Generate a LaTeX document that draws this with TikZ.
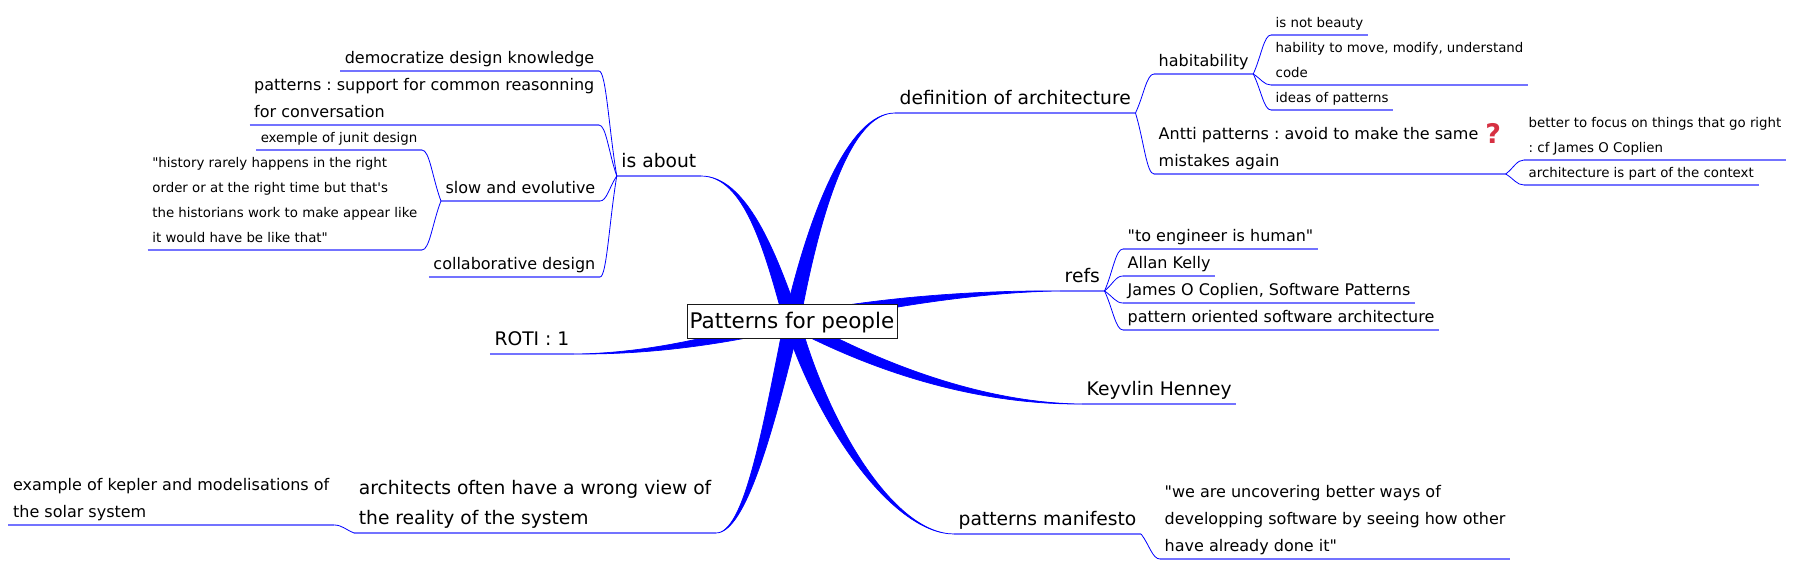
\documentclass[tikz,border=0pt]{standalone}
\usepackage{fontspec}
\setmainfont{DejaVu Sans}[Ligatures=TeXOff]
\usetikzlibrary{calc,backgrounds}
\definecolor{mapblue}{RGB}{0,0,255}
\definecolor{helpred}{RGB}{214,48,66}
\tikzstyle{rootnode}=[draw=black!90,fill=white,line width=1pt,minimum width=210pt,minimum height=34pt,inner sep=0pt,text depth=2pt,font=\fontsize{21.5}{25}\selectfont]
\tikzstyle{levelone}=[inner xsep=4.5pt,inner ysep=0pt,text depth=8pt,align=left,font=\frenchspacing\fontsize{18.7}{30}\selectfont]
\tikzstyle{leveltwo}=[inner xsep=4.5pt,inner ysep=0pt,text depth=7.5pt,align=left,font=\frenchspacing\fontsize{16}{27}\selectfont]
\tikzstyle{levelthree}=[inner xsep=4.5pt,inner ysep=0pt,text depth=7pt,align=left,font=\frenchspacing\fontsize{13.35}{25}\selectfont]
\tikzstyle{underline}=[draw=mapblue!55,line width=1.4pt]
\tikzstyle{edge}=[draw=mapblue,line width=0.8pt]
\tikzstyle{branch}=[fill=mapblue,draw=mapblue,line width=0.7pt]
\newcommand{\helpicon}{\hspace{7pt}\raisebox{-4pt}{\textcolor{helpred}{\bfseries\fontsize{27}{27}\selectfont ?}}}

\begin{document}
\begin{tikzpicture}[x=1pt,y=-1pt]
\useasboundingbox (0,0) rectangle (1794,569);
\node[rootnode] (root) at (792,321.5) {Patterns for people};
% left side
\foreach \pos/\name/\level/\body in {
  {(701,176)/isabout/levelone/is about},
  {(716,533)/architects/levelone/architects often have a wrong view of\\the reality of the system},
  {(574,354)/roti/levelone/ROTI : 1},
  {(599,71)/democratize/leveltwo/democratize design knowledge},
  {(599,125)/support/leveltwo/patterns : support for common reasonning\\for conversation},
  {(600,201)/slow/leveltwo/slow and evolutive},
  {(600,277)/collab/leveltwo/collaborative design},
  {(422,150)/junit/levelthree/exemple of junit design},
  {(422,250)/history/levelthree/"history rarely happens in the right\\order or at the right time but that's\\the historians work to make appear like\\it would have be like that"},
  {(334,525)/kepler/leveltwo/example of kepler and modelisations of\\the solar system}}{
  \node[\level,anchor=south east] (\name) at \pos {\body};
}
% right side
\foreach \pos/\name/\level/\body in {
  {(895,113)/definition/levelone/definition of architecture},
  {(1060,291)/refs/levelone/refs},
  {(1082,404)/henney/levelone/Keyvlin Henney},
  {(954,534)/manifesto/levelone/patterns manifesto},
  {(1154,74)/habitability/leveltwo/habitability},
  {(1154,174)/antti/leveltwo/Antti patterns : avoid to make the same\helpicon\\mistakes again},
  {(1271,35)/beauty/levelthree/is not beauty},
  {(1271,85)/hability/levelthree/{hability to move, modify, understand\\code}},
  {(1271,110)/ideas/levelthree/ideas of patterns},
  {(1524,160)/focus/levelthree/better to focus on things that go right\\: cf James O Coplien},
  {(1524,185)/context/levelthree/architecture is part of the context},
  {(1123,249)/engineer/leveltwo/"to engineer is human"},
  {(1123,276)/kelly/leveltwo/Allan Kelly},
  {(1123,303)/coplien/leveltwo/{James O Coplien, Software Patterns}},
  {(1123,330)/oriented/leveltwo/pattern oriented software architecture},
  {(1160,559)/uncovering/leveltwo/"we are uncovering better ways of\\developping software by seeing how other\\have already done it"}}{
  \node[\level,anchor=south west] (\name) at \pos {\body};
}
\foreach \name in {isabout,architects,roti,democratize,support,slow,collab,junit,history,kepler,
                   definition,refs,henney,manifesto,habitability,antti,beauty,hability,ideas,
                   focus,context,engineer,kelly,coplien,oriented,uncovering}{
  \draw[underline] (\name.south west) -- (\name.south east);
}
\foreach \source/\dest in {isabout.south west/democratize.south east, isabout.south west/support.south east,
                           isabout.south west/slow.south east, isabout.south west/collab.south east,
                           slow.south west/junit.south east, slow.south west/history.south east,
                           architects.south west/kepler.south east,
                           definition.south east/habitability.south west, definition.south east/antti.south west,
                           habitability.south east/beauty.south west, habitability.south east/hability.south west,
                           habitability.south east/ideas.south west,
                           antti.south east/focus.south west, antti.south east/context.south west,
                           refs.south east/engineer.south west, refs.south east/kelly.south west,
                           refs.south east/coplien.south west, refs.south east/oriented.south west,
                           manifesto.south east/uncovering.south west}{
  \draw[edge] (\source) .. controls ($(\source)!.45!(\dest)$) and ($(\dest)+.4*(\source)-.4*(\dest|-\source)$) .. (\dest);
}
\begin{pgfonlayer}{background}
\foreach \dest/\ctrla/\ctrlb/\dx/\dy in {
  isabout.south east/{745,176}/{770,250}/8/0,
  definition.south west/{850,113}/{815,210}/8/0,
  architects.south east/{745,533}/{768,430}/8/0,
  manifesto.south west/{895,534}/{825,430}/8/0,
  roti.south east/{650,354}/{720,340}/0/7,
  refs.south west/{990,291}/{890,300}/0/7,
  henney.south west/{1000,404}/{900,380}/0/7}{
  \fill[branch] (\dest) .. controls ([shift={(.1*\dx,.1*\dy)}]\ctrla) and ([shift={(.7*\dx,.7*\dy)}]\ctrlb) .. ([shift={(\dx,\dy)}]root.center)
    -- ([shift={(-\dx,-\dy)}]root.center) .. controls ([shift={(-.7*\dx,-.7*\dy)}]\ctrlb) and ([shift={(-.1*\dx,-.1*\dy)}]\ctrla) .. (\dest);
}
\end{pgfonlayer}
\end{tikzpicture}
\end{document}
